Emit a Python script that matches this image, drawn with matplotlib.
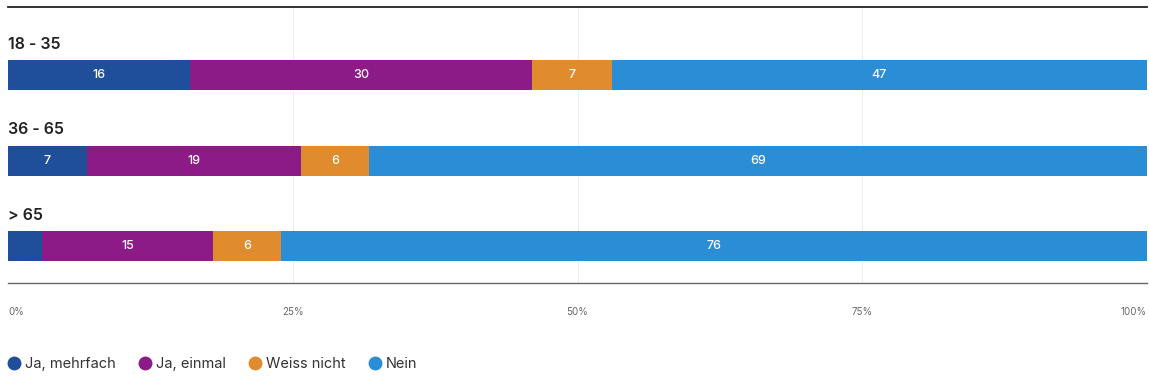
import matplotlib
matplotlib.use("Agg")
import matplotlib.pyplot as plt
from matplotlib.lines import Line2D
import numpy as np

groups = ["18 - 35", "36 - 65", "> 65"]
series = ["Ja, mehrfach", "Ja, einmal", "Weiss nicht", "Nein"]
ja_mehrfach = [16, 7, 3]
ja_einmal = [30, 19, 15]
weiss_nicht = [7, 6, 6]
nein = [47, 69, 76]
labels_shown = [["16", "30", "7", "47"], ["7", "19", "6", "69"], ["", "15", "6", "76"]]
tick_vals = [0, 25, 50, 75, 100]
tick_labels = ["0%", "25%", "50%", "75%", "100%"]
colors = ["#1f4f9b", "#8c1a87", "#e08b2d", "#2a8dd6"]

plt.rcParams['font.family'] = ['Inter', 'DejaVu Sans']

fig = plt.figure(figsize=(11.49, 3.89), dpi=100)
ax = fig.add_axes([8/1149, 1 - 283/389, 1139/1149, 276/389])

data = np.array([ja_mehrfach, ja_einmal, weiss_nicht, nein], dtype=float)
totals = data.sum(axis=0)
pct = data / totals * 100

y = np.arange(len(groups))
left = np.zeros(len(groups))
for i, s in enumerate(series):
    ax.barh(y, pct[i], left=left, height=0.35, color=colors[i], edgecolor='none', zorder=3)
    for j in range(len(groups)):
        lab = labels_shown[j][i]
        if lab:
            ax.text(left[j] + pct[i][j] / 2, y[j], lab, ha='center', va='center',
                    color='white', fontsize=9, fontweight='medium', zorder=4)
    left += pct[i]

for j, g in enumerate(groups):
    ax.text(0, y[j] - 0.36, g, ha='left', va='center', fontsize=11.5,
            fontweight='semibold', color='#222222')

ax.set_xlim(0, 100)
ax.set_ylim(2.426, -0.793)
ax.set_xticks(tick_vals)
ax.set_xticklabels(tick_labels, fontsize=7, color='#666666')
tl = ax.get_xticklabels()
tl[0].set_ha('left')
tl[-1].set_ha('right')
ax.tick_params(axis='x', length=0, pad=17)
ax.set_yticks([])
for v in tick_vals[1:-1]:
    ax.axvline(v, color='#eeeeee', lw=0.8, zorder=1)
ax.spines['left'].set_visible(False)
ax.spines['right'].set_visible(False)
ax.spines['top'].set_color('#222222')
ax.spines['top'].set_linewidth(1.3)
ax.spines['bottom'].set_color('#666666')
ax.spines['bottom'].set_linewidth(1.0)

handles = [Line2D([0], [0], marker='o', color='none', markerfacecolor=c,
                  markeredgecolor='none', markersize=10) for c in colors]
fig.legend(handles, series, loc='center left', bbox_to_anchor=(7/1149, 1 - 364/389),
           ncol=4, frameon=False, fontsize=10.5, handletextpad=0.25,
           columnspacing=1.5, handlelength=1.0, borderaxespad=0, borderpad=0,
           labelcolor='#333333')

fig.savefig("out.png", dpi=100)
